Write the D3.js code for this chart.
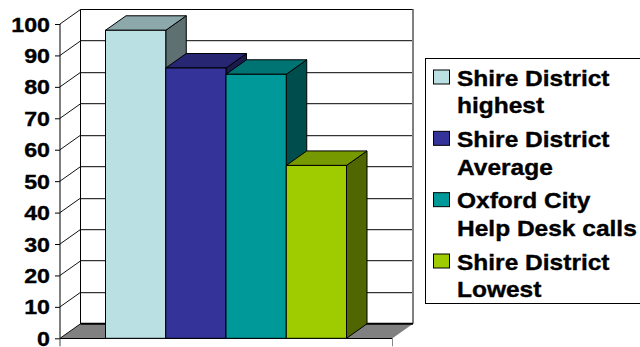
<!DOCTYPE html>
<html>
<head>
<meta charset="utf-8">
<script src="https://cdn.jsdelivr.net/npm/d3@7/dist/d3.min.js"></script>
<style>
html,body{margin:0;padding:0;background:#fff;}
svg{display:block;}
text{font-family:"Liberation Sans",Arial,sans-serif;font-weight:700;fill:#000;stroke:#000;stroke-width:0.35px;}
</style>
</head>
<body>
<div id="chart"></div>
<script>
// Chart values
const categories = ["Shire District highest", "Shire District Average", "Oxford City Help Desk calls", "Shire District Lowest"];
const values = [98, 86, 84, 55];
const seriesColors = ["#BBE0E3", "#333399", "#009999", "#9FCC00"];
const legendLines = [["Shire District", "highest"], ["Shire District", "Average"], ["Oxford City", "Help Desk calls"], ["Shire District", "Lowest"]];
const tickValues = [0, 10, 20, 30, 40, 50, 60, 70, 80, 90, 100];

const width = 640, height = 347;
const svg = d3.select("#chart").append("svg").attr("width", width).attr("height", height);

// Oblique projection: depth of the box in screen pixels
const depthX = 20.5, depthY = 14.5;
const y = d3.scaleLinear().domain([0, 100]).range([338.3, 24]);
const x = d3.scaleBand().domain(categories).range([105.5, 346.5]).padding(0);
const plotLeft = 60, plotRight = 392.5;
const pts = a => a.map(p => p.join(",")).join(" ");
const snap = v => Math.round(v - 0.5) + 0.5;

// Floor
svg.append("polygon")
  .attr("points", pts([[plotLeft, y(0)], [plotLeft + depthX, y(0) - depthY], [plotRight + depthX, y(0) - depthY], [plotRight, y(0)]]))
  .attr("fill", "#808080");

const wallBack = y(0) - depthY;
const wallTop = y(100) - depthY;

// Gridlines along the back wall, each with a pale shadow row beneath it
const grid = svg.append("g");
tickValues.slice(1, -1).forEach(t => {
  const gy = snap(y(t) - depthY);
  grid.append("line").attr("x1", plotLeft + depthX).attr("x2", plotRight + depthX)
    .attr("y1", gy + 1).attr("y2", gy + 1).attr("stroke", "#cfcfcf").attr("stroke-width", 1);
  grid.append("line").attr("x1", plotLeft + depthX).attr("x2", plotRight + depthX)
    .attr("y1", gy).attr("y2", gy).attr("stroke", "#333").attr("stroke-width", 1);
});
// Diagonals across the side wall
tickValues.forEach(t => {
  grid.append("line").attr("x1", plotLeft).attr("y1", y(t)).attr("x2", plotLeft + depthX).attr("y2", y(t) - depthY)
    .attr("stroke", "#111").attr("stroke-width", 1);
});
grid.append("line").attr("x1", plotLeft + depthX).attr("x2", plotRight + depthX + 0.5)
  .attr("y1", snap(wallTop)).attr("y2", snap(wallTop)).attr("stroke", "#000").attr("stroke-width", 1);
grid.append("line").attr("x1", snap(plotLeft + depthX)).attr("x2", snap(plotLeft + depthX))
  .attr("y1", wallTop).attr("y2", wallBack).attr("stroke", "#000").attr("stroke-width", 1);
grid.append("line").attr("x1", plotRight + depthX).attr("x2", plotRight + depthX)
  .attr("y1", wallTop).attr("y2", wallBack).attr("stroke", "#808080").attr("stroke-width", 2);
grid.append("line").attr("x1", plotLeft + depthX).attr("x2", plotRight + depthX)
  .attr("y1", wallBack).attr("y2", wallBack).attr("stroke", "#000").attr("stroke-width", 2);

// Value axis on the front plane, with the horizontally widened numerals
const labelStretch = 1.16;
const axis = d3.axisLeft(y).tickValues(tickValues).tickSize(5).tickPadding(5);
const axisG = svg.append("g").attr("transform", `translate(${plotLeft},0)`).call(axis);
axisG.select(".domain").attr("stroke", "#000").attr("d", `M0,${y(100)}V${y(0)}`);
axisG.selectAll("line").attr("stroke", "#000");
axisG.selectAll("text")
  .style("font-size", "20px").attr("fill", "#000")
  .attr("transform", `scale(${labelStretch},1)`)
  .attr("x", -10 / labelStretch)
  .attr("dy", "0.35em");

// Front floor edge and its drop ticks
svg.append("line").attr("x1", plotLeft).attr("x2", plotRight).attr("y1", snap(y(0))).attr("y2", snap(y(0))).attr("stroke", "#000");
svg.append("line").attr("x1", plotLeft).attr("x2", plotLeft).attr("y1", y(0)).attr("y2", y(0) + 8).attr("stroke", "#444");
svg.append("line").attr("x1", plotRight).attr("x2", plotRight).attr("y1", y(0)).attr("y2", y(0) + 8).attr("stroke", "#888");

// Bars: front, top and side faces; top and side are darker shades of the fill
const bars = svg.append("g").selectAll("g").data(categories).join("g");
const shade = (c, k) => { const r = d3.rgb(c); return d3.rgb(r.r * k, r.g * k, r.b * k).formatHex(); };
bars.each(function (c, i) {
  const g = d3.select(this);
  const x0 = x(c), x1 = x(c) + x.bandwidth(), yT = y(values[i]), yB = y(0);
  const col = seriesColors[i];
  g.append("polygon").attr("points", pts([[x1, yT], [x1 + depthX, yT - depthY], [x1 + depthX, yB - depthY], [x1, yB]]))
    .attr("fill", shade(col, 0.5)).attr("stroke", "#000").attr("stroke-width", 1);
  g.append("polygon").attr("points", pts([[x0, yT], [x0 + depthX, yT - depthY], [x1 + depthX, yT - depthY], [x1, yT]]))
    .attr("fill", shade(col, 0.75)).attr("stroke", "#000").attr("stroke-width", 1);
  g.append("rect").attr("x", x0).attr("y", yT).attr("width", x.bandwidth()).attr("height", yB - yT)
    .attr("fill", col).attr("stroke", "#000").attr("stroke-width", 1);
});

// Legend box, running off the right edge
const legendStretch = 1.14;
const legend = svg.append("g");
legend.append("rect").attr("x", 425.5).attr("y", 58.5).attr("width", 240).attr("height", 245)
  .attr("fill", "#fff").attr("stroke", "#000").attr("stroke-width", 1);
const rowTop = d3.scaleLinear().domain([0, 3]).range([70, 254]);
legendLines.forEach((lines, i) => {
  legend.append("rect").attr("x", 433.5).attr("y", rowTop(i)).attr("width", 16).attr("height", 14)
    .attr("fill", seriesColors[i]).attr("stroke", "#000").attr("stroke-width", 1);
  lines.forEach((line, j) => {
    legend.append("text").text(line)
      .attr("transform", `translate(457,${rowTop(i) + 15.7 + j * 27.5}) scale(${legendStretch},1)`)
      .style("font-size", "21.5px");
  });
});
</script>
</body>
</html>
